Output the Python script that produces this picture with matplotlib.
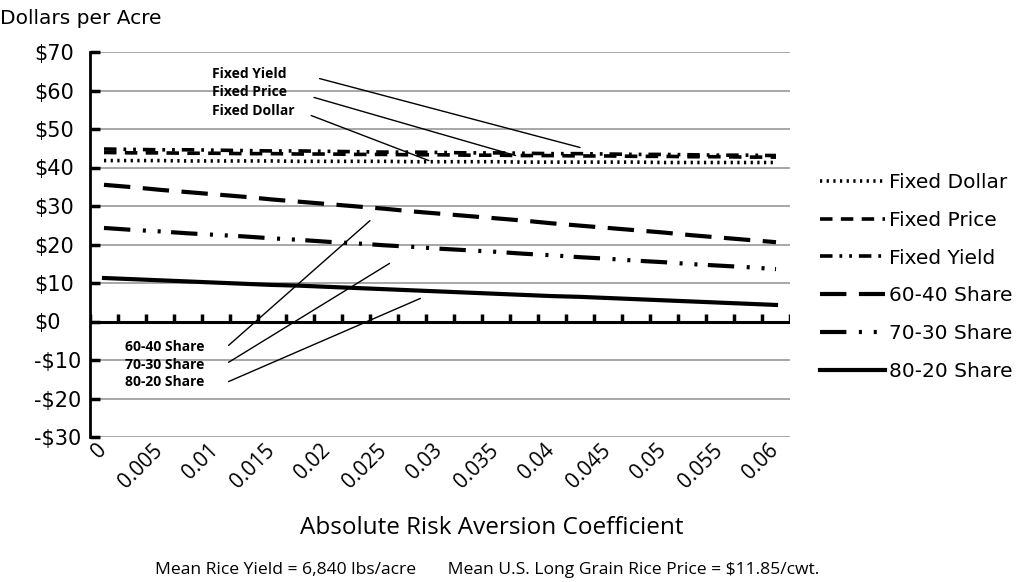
import matplotlib
matplotlib.use("Agg")
import matplotlib.pyplot as plt
import matplotlib.transforms as mtransforms

plt.rcParams['lines.scale_dashes'] = False

# ---------------- data ----------------
risk_coef = [0, 0.0025, 0.005, 0.0075, 0.01, 0.0125, 0.015, 0.0175, 0.02, 0.0225,
             0.025, 0.0275, 0.03, 0.0325, 0.035, 0.0375, 0.04, 0.0425, 0.045, 0.0475,
             0.05, 0.0525, 0.055, 0.0575, 0.06]
tick_labels = ['0', '0.005', '0.01', '0.015', '0.02', '0.025', '0.03',
               '0.035', '0.04', '0.045', '0.05', '0.055', '0.06']

fixed_dollar = [41.8, 41.8, 41.8, 41.7, 41.7, 41.7, 41.7, 41.6, 41.6, 41.6, 41.6, 41.5,
                41.5, 41.5, 41.5, 41.4, 41.4, 41.4, 41.4, 41.4, 41.3, 41.3, 41.3, 41.3, 41.3]
fixed_price = [43.9, 43.8, 43.8, 43.7, 43.7, 43.6, 43.6, 43.5, 43.5, 43.4, 43.4, 43.3,
               43.3, 43.2, 43.2, 43.1, 43.1, 43.0, 43.0, 42.9, 42.9, 42.8, 42.8, 42.7, 42.7]
fixed_yield = [44.8, 44.7, 44.6, 44.6, 44.5, 44.4, 44.3, 44.3, 44.2, 44.1, 44.0, 44.0,
               43.9, 43.8, 43.8, 43.7, 43.6, 43.6, 43.5, 43.4, 43.4, 43.3, 43.2, 43.2, 43.1]
share_60_40 = [35.5, 34.9, 34.2, 33.6, 33.0, 32.4, 31.7, 31.1, 30.5, 29.9, 29.3, 28.6,
               28.0, 27.4, 26.8, 26.2, 25.5, 24.9, 24.3, 23.7, 23.1, 22.4, 21.8, 21.2, 20.6]
share_70_30 = [24.3, 23.8, 23.4, 22.9, 22.5, 22.1, 21.6, 21.2, 20.7, 20.3, 19.8, 19.4,
               18.9, 18.5, 18.1, 17.6, 17.2, 16.7, 16.3, 15.8, 15.4, 14.9, 14.5, 14.1, 13.6]
share_80_20 = [11.3, 11.0, 10.7, 10.4, 10.1, 9.8, 9.5, 9.3, 9.0, 8.7, 8.4, 8.1,
               7.8, 7.5, 7.2, 6.9, 6.6, 6.4, 6.1, 5.8, 5.5, 5.2, 4.9, 4.6, 4.3]
y_ticks = [-30, -20, -10, 0, 10, 20, 30, 40, 50, 60, 70]

# ---------------- figure ----------------
fig = plt.figure(figsize=(10.16, 5.82), dpi=100)
ax = fig.add_axes([90/1016, 1-437/582, 700/1016, 385/582])

idx = list(range(len(risk_coef)))

ax.set_xlim(-0.5, len(risk_coef) - 0.5)
ax.set_ylim(-30, 70)
ax.set_yticks(y_ticks)
ax.set_yticklabels([('-$%d' % -v) if v < 0 else ('$%d' % v) for v in y_ticks],
                   fontsize=15, fontfamily='DejaVu Sans')
ax.tick_params(axis='y', direction='in', length=7, width=2.5, color='black', pad=40)
for lab in ax.get_yticklabels():
    lab.set_horizontalalignment('left')
ax.yaxis.grid(True, color='#a0a0a0', lw=1.3)
ax.set_axisbelow(True)

for s in ['top', 'right', 'bottom']:
    ax.spines[s].set_visible(False)
ax.spines['left'].set_linewidth(2)

ax.set_xticks(idx[::2])
ax.set_xticklabels(tick_labels, rotation=45, ha='right', va='top',
                   rotation_mode='anchor', fontsize=15, fontfamily='Open Sans')
ax.tick_params(axis='x', length=0, pad=2)
shift = mtransforms.ScaledTranslation(-8/100, 0, fig.dpi_scale_trans)
for lab in ax.get_xticklabels():
    lab.set_transform(lab.get_transform() + shift)

# axis line at zero with upward category tick marks
ax.axhline(0, color='black', lw=2.2, zorder=2)
bounds = [i - 0.5 for i in idx] + [idx[-1] + 0.5]
ax.vlines(bounds, 0, 1.9, colors='black', lw=2.5, zorder=2)

lw_top = 2.6
ax.plot(idx, fixed_dollar, color='black', lw=lw_top, linestyle=(0, (1.6, 3.2)),
        label='Fixed Dollar')
ax.plot(idx, fixed_price, color='black', lw=lw_top, linestyle=(0, (9, 6)),
        label='Fixed Price')
ax.plot(idx, fixed_yield, color='black', lw=lw_top, linestyle=(0, (9, 5, 2, 5, 2, 5)),
        label='Fixed Yield')
ax.plot(idx, share_60_40, color='black', lw=3.0, linestyle=(0, (19, 9)),
        label='60-40 Share')
ax.plot(idx, share_70_30, color='black', lw=3.0,
        linestyle=(0, (19, 9, 2.2, 8.5, 2.2, 7.5)), label='70-30 Share')
ax.plot(idx, share_80_20, color='black', lw=3.0, linestyle='-', label='80-20 Share')

# leader annotations
ann_font = dict(fontsize=10, fontweight='bold', fontfamily='Open Sans', ha='left',
                va='center')
top_labels = [('Fixed Yield', 64.4, (7.7, 63.1), (17.0, 45.2)),
              ('Fixed Price', 59.5, (7.5, 58.2), (14.7, 43.1)),
              ('Fixed Dollar', 54.8, (7.4, 53.5), (11.6, 41.8))]
for txt, ty, start, end in top_labels:
    ax.text(3.85, ty, txt, **ann_font)
    ax.annotate('', xy=end, xytext=start,
                arrowprops=dict(arrowstyle='-', color='black', lw=1.0,
                                shrinkA=0, shrinkB=0))

bot_labels = [('60-40 Share', -6.5, (4.45, -6.2), (9.5, 26.2)),
              ('70-30 Share', -11.2, (4.45, -10.6), (10.2, 15.1)),
              ('80-20 Share', -15.8, (4.45, -15.6), (11.3, 6.0))]
for txt, ty, start, end in bot_labels:
    ax.text(0.75, ty, txt, **ann_font)
    ax.annotate('', xy=end, xytext=start,
                arrowprops=dict(arrowstyle='-', color='black', lw=1.0,
                                shrinkA=0, shrinkB=0))

# legend
leg = fig.legend(loc='upper left', bbox_to_anchor=(812/1016, 1-165/582),
                 frameon=False, prop={'family': 'DejaVu Sans', 'size': 14.5},
                 handlelength=3.2, handletextpad=0.2, labelspacing=0.93,
                 borderaxespad=0)

# texts
fig.text(0/1016, 1-18/582, 'Dollars per Acre', fontsize=14.5, fontfamily='DejaVu Sans',
         ha='left', va='center')
fig.text(492/1016, 1-528/582, 'Absolute Risk Aversion Coefficient', fontsize=17.5,
         fontfamily='Open Sans', ha='center', va='center')
fig.text(487/1016, 1-570/582,
         'Mean Rice Yield = 6,840 lbs/acre       Mean U.S. Long Grain Rice Price = $11.85/cwt.',
         fontsize=12.6, fontfamily='Open Sans', ha='center', va='center')

fig.savefig('out.png', dpi=100)
